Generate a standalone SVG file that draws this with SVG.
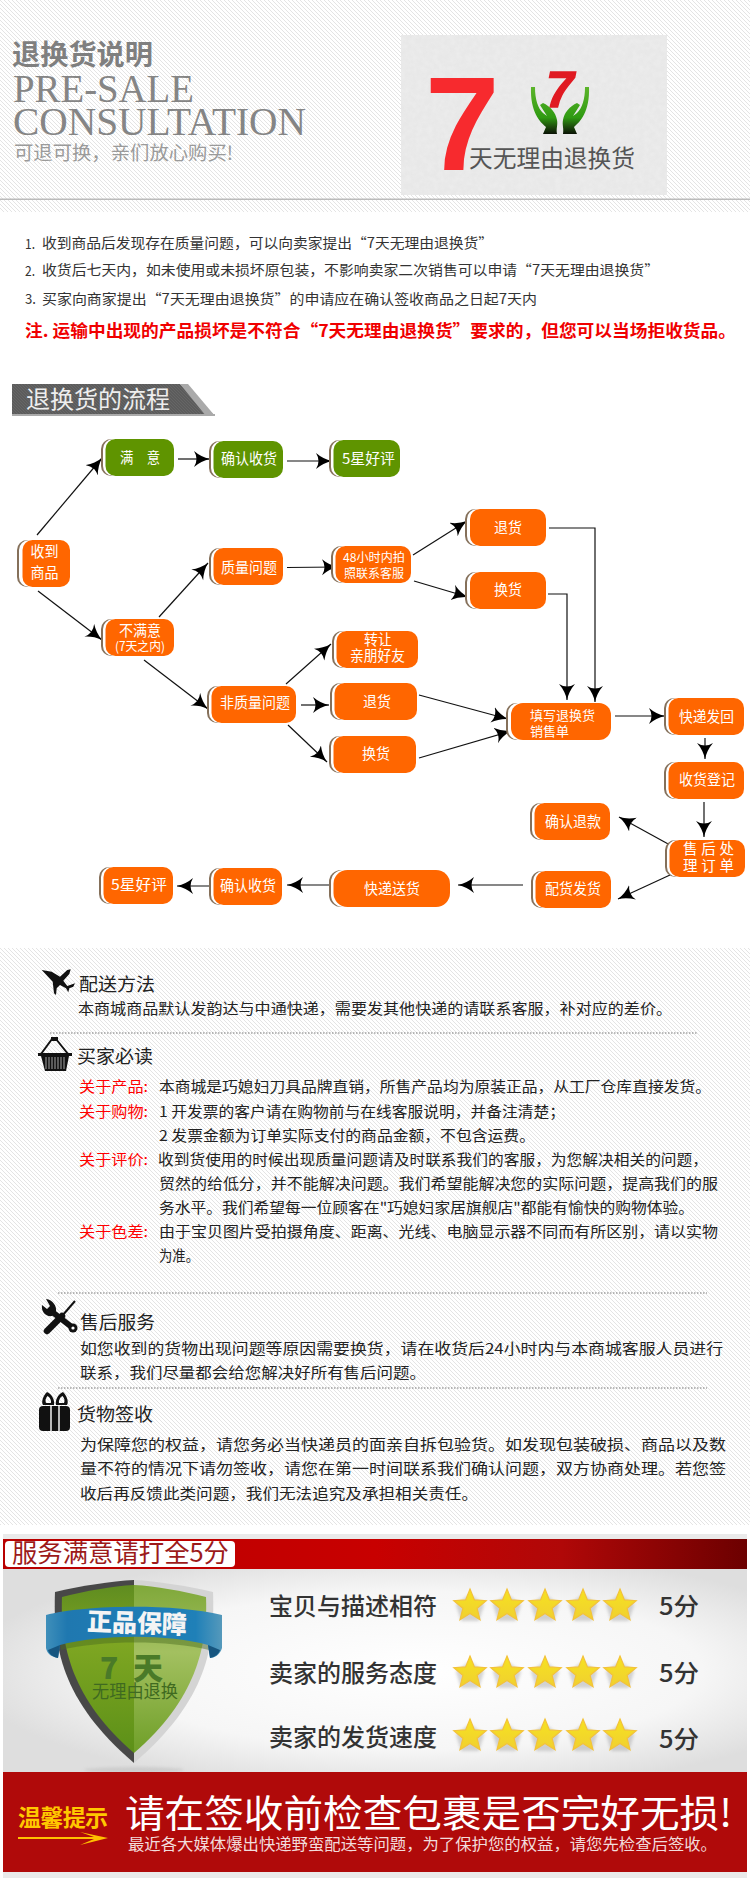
<svg xmlns="http://www.w3.org/2000/svg" width="750" height="1878" viewBox="0 0 750 1878">
<style>
text{font-family:"Noto Sans CJK SC","Liberation Sans",sans-serif}
.o{fill:#ff6600}.g{fill:#5f9400}.s{fill:#85705a}.w{fill:#fff}
.n{fill:#fff;font-size:14.5px}
.b{fill:#222;font-size:14.5px}
.h{fill:#222;font-size:18px}
.k{fill:#f00;font-size:14.5px}
.l{fill:#333;font-size:14px}
.r{fill:#333;font-size:24px;font-weight:500}
.c{fill:none;stroke:#111;stroke-width:1.2;marker-end:url(#ah)}
.d{stroke:#777;stroke-width:1;stroke-dasharray:1.5 1.5;fill:none}
</style>
<defs>
<pattern id="hat" width="4" height="4" patternUnits="userSpaceOnUse"><rect width="4" height="4" fill="#fff"/><path d="M0,0 L4,4 M-1,3 L1,5 M3,-1 L5,1" stroke="#e4e4e4" stroke-width="1"/></pattern>
<pattern id="barp" width="3" height="3" patternUnits="userSpaceOnUse"><rect width="3" height="3" fill="#5c5c5c"/><path d="M0,0 L3,3" stroke="#666" stroke-width="1"/></pattern>
<marker id="ah" markerUnits="userSpaceOnUse" markerWidth="18" markerHeight="18" refX="16" refY="8" orient="auto"><path d="M0,0 Q7,6 16,8 Q7,10 0,16 Q5,8 0,0z" fill="#000"/></marker>
<linearGradient id="band" x1="0" x2="1" y1="0" y2="0"><stop offset="0" stop-color="#b80000"/><stop offset=".5" stop-color="#c80000"/><stop offset=".75" stop-color="#b00808"/><stop offset="1" stop-color="#6c0000"/></linearGradient>
<radialGradient id="panel" cx=".55" cy=".5" r=".6"><stop offset="0" stop-color="#fff"/><stop offset=".65" stop-color="#f6f6f6"/><stop offset="1" stop-color="#dedede"/></radialGradient>
<linearGradient id="grnL" x1="0" x2="0" y1="0" y2="1"><stop offset="0" stop-color="#5f8c20"/><stop offset=".35" stop-color="#7ea622"/><stop offset="1" stop-color="#5c9018"/></linearGradient>
<linearGradient id="grnR" x1="0" x2="0" y1="0" y2="1"><stop offset="0" stop-color="#7fa83a"/><stop offset=".4" stop-color="#a3c060"/><stop offset="1" stop-color="#6f9f28"/></linearGradient>
<linearGradient id="rib" x1="0" x2="1" y1="0" y2="0"><stop offset="0" stop-color="#3f8fba"/><stop offset=".12" stop-color="#1f78b0"/><stop offset=".85" stop-color="#1f80b8"/><stop offset="1" stop-color="#5599bb"/></linearGradient>
<linearGradient id="hnd" x1="0" x2="0" y1="0" y2="1"><stop offset="0" stop-color="#5cb52a"/><stop offset=".65" stop-color="#2f9a12"/><stop offset=".85" stop-color="#1d4a0c"/><stop offset="1" stop-color="#0a1205"/></linearGradient>
<linearGradient id="strg" x1="0" x2="0" y1="0" y2="1"><stop offset="0" stop-color="#f6e220"/><stop offset="1" stop-color="#f0d030"/></linearGradient>
<filter id="bl" x="-30%" y="-30%" width="160%" height="160%"><feGaussianBlur stdDeviation="1.5"/></filter>
<filter id="nz" x="0" y="0" width="100%" height="100%"><feTurbulence type="fractalNoise" baseFrequency=".18" numOctaves="2" seed="4"/><feColorMatrix values="0 0 0 0 .88 0 0 0 0 .88 0 0 0 0 .88 0 0 0 1.4 -.45"/></filter>
<g id="star"><polygon points="0,-15 14.2,-4.6 8.8,12.1 -8.8,12.1 -14.2,-4.6" fill="#888" opacity=".35" filter="url(#bl)" transform="translate(0,3)"/><polygon points="0,-17 4.4,-6.07 16.2,-5.25 7.13,2.32 10,13.75 0,7.5 -10,13.75 -7.13,2.32 -16.2,-5.25 -4.4,-6.07" fill="url(#strg)" stroke="#f3c23a" stroke-width="1.2"/></g>
</defs>

<!-- header -->
<rect width="750" height="212" fill="url(#hat)"/>
<g id="header">
<rect x="401" y="35" width="266" height="160" fill="#e8e8e8"/>
<rect x="401" y="35" width="266" height="160" filter="url(#nz)" opacity=".6"/>
<rect x="0" y="198.5" width="750" height="1.5" fill="#bbb"/>
<text x="12" y="65" font-size="28" font-weight="700" fill="#7f7f7f" textLength="141" lengthAdjust="spacingAndGlyphs">退换货说明</text>
<text x="13" y="102" font-size="39" fill="#858585" style="font-family:'Liberation Serif',serif" textLength="181" lengthAdjust="spacingAndGlyphs">PRE-SALE</text>
<text x="13" y="135" font-size="39" fill="#858585" style="font-family:'Liberation Serif',serif" textLength="293" lengthAdjust="spacingAndGlyphs">CONSULTATION</text>
<text x="14" y="160" font-size="19" fill="#9a9a9a" textLength="219" lengthAdjust="spacingAndGlyphs">可退可换，亲们放心购买!</text>
<text x="425" y="170" font-size="134" font-weight="700" fill="#f72a2e" style="font-family:'Liberation Sans',sans-serif">7</text>
<text x="546" y="107" font-size="50" font-weight="700" font-style="italic" fill="#e01a22" stroke="#e01a22" stroke-width="1.4" style="font-family:'Liberation Sans',sans-serif">7</text>
<path d="M531,87 L535,87 C535,100 538,108 543,113 L547,116 L540,105 L543,103 C550,106 556,113 557,120 C558,125 556,128 557,134 L543,134 L546,127 C540,122 530,112 531,87Z" fill="url(#hnd)"/>
<path d="M589,87 L585,87 C585,100 582,108 577,113 L573,116 L580,105 L577,103 C570,106 564,113 563,120 C562,125 564,128 563,134 L577,134 L574,127 C580,122 590,112 589,87Z" fill="url(#hnd)"/>
<text x="469" y="167" font-size="24" fill="#555" textLength="166" lengthAdjust="spacingAndGlyphs">天无理由退换货</text>
</g>

<g id="policy">
<text class="l" x="25" y="249" font-size="14" textLength="10" lengthAdjust="spacingAndGlyphs">1.</text>
<text class="l" x="42" y="248" textLength="451" lengthAdjust="spacingAndGlyphs">收到商品后发现存在质量问题，可以向卖家提出“7天无理由退换货”</text>
<text class="l" x="25" y="276" textLength="10" lengthAdjust="spacingAndGlyphs">2.</text>
<text class="l" x="42" y="275" textLength="617" lengthAdjust="spacingAndGlyphs">收货后七天内，如未使用或未损坏原包装，不影响卖家二次销售可以申请“7天无理由退换货”</text>
<text class="l" x="25" y="304" textLength="11" lengthAdjust="spacingAndGlyphs">3.</text>
<text class="l" x="42" y="304" textLength="495" lengthAdjust="spacingAndGlyphs">买家向商家提出“7天无理由退换货”的申请应在确认签收商品之日起7天内</text>
<text x="25" y="337" font-size="16.5" font-weight="700" fill="#f00000" textLength="711" lengthAdjust="spacingAndGlyphs">注. 运输中出现的产品损坏是不符合“7天无理由退换货”要求的，但您可以当场拒收货品。</text>
</g>

<g id="flow-title">
<polygon points="12,384 180,384 215,416 12,416" fill="url(#barp)"/>
<polygon points="180,384 188,384 215,416 206,416" fill="#aaa"/>
<rect x="12" y="414" width="203" height="2" fill="#aaa"/>
<text x="26" y="408" font-size="24" fill="#eee" textLength="144" lengthAdjust="spacingAndGlyphs">退换货的流程</text>
</g>

<g id="connectors">
<path class="c" d="M37,535 L102,458"/>
<path class="c" d="M38,591 L102,640"/>
<path class="c" d="M178,459 L210,459"/>
<path class="c" d="M287,461 L332,461"/>
<path class="c" d="M159,617 L208,563"/>
<path class="c" d="M287,567.5 L338,567"/>
<path class="c" d="M144,660 L208,709"/>
<path class="c" d="M286,684 L331,644"/>
<path class="c" d="M301,705 L329,705"/>
<path class="c" d="M288,725 L327,762"/>
<path class="c" d="M413,555 L467,521"/>
<path class="c" d="M414,581 L468,597"/>
<path class="c" d="M549,528 L595,528 L595,702"/>
<path class="c" d="M548,594 L567,594 L567,700"/>
<path class="c" d="M419,695 L508,719"/>
<path class="c" d="M419,758 L511,731"/>
<path class="c" d="M615,716 L665,716"/>
<path class="c" d="M705,738 L705,759"/>
<path class="c" d="M704,802 L704,837"/>
<path class="c" d="M670,845 L619,817"/>
<path class="c" d="M670,875 L618,899"/>
<path class="c" d="M523,885 L458,885"/>
<path class="c" d="M332,885 L287,885"/>
<path class="c" d="M212,886 L177,886"/>
</g>

<g id="n-receive"><rect class="s" x="17" y="540" width="40" height="47" rx="10"/><rect class="w" x="19" y="540" width="40" height="47" rx="10"/><rect class="o" x="22.5" y="540" width="47.5" height="47" rx="10"/><text class="n" x="30.5" y="557" textLength="28" lengthAdjust="spacingAndGlyphs">收到</text><text class="n" x="30.5" y="578" textLength="28" lengthAdjust="spacingAndGlyphs">商品</text></g>
<g id="n-satisfied"><rect class="s" x="101" y="439" width="40" height="37" rx="10"/><rect class="w" x="103" y="439" width="40" height="37" rx="10"/><rect class="g" x="105.5" y="439" width="68.5" height="37" rx="10"/><text class="n" x="120" y="463" textLength="40" lengthAdjust="spacingAndGlyphs">满　意</text></g>
<g id="n-confirm-g"><rect class="s" x="209" y="441" width="40" height="37" rx="10"/><rect class="w" x="211" y="441" width="40" height="37" rx="10"/><rect class="g" x="213.5" y="441" width="69.5" height="37" rx="10"/><text class="n" x="221" y="464" textLength="56" lengthAdjust="spacingAndGlyphs">确认收货</text></g>
<g id="n-5star-g"><rect class="s" x="329" y="440" width="40" height="37" rx="10"/><rect class="w" x="331" y="440" width="40" height="37" rx="10"/><rect class="g" x="333.5" y="440" width="66.5" height="37" rx="10"/><text class="n" x="342" y="464" textLength="53" lengthAdjust="spacingAndGlyphs">5星好评</text></g>
<g id="n-quality"><rect class="s" x="209" y="548" width="40" height="37" rx="10"/><rect class="w" x="211" y="548" width="40" height="37" rx="10"/><rect class="o" x="213.5" y="548" width="69.5" height="37" rx="10"/><text class="n" x="221" y="573" textLength="56" lengthAdjust="spacingAndGlyphs">质量问题</text></g>
<g id="n-48h"><rect class="s" x="331" y="546" width="40" height="37" rx="10"/><rect class="w" x="333" y="546" width="40" height="37" rx="10"/><rect class="o" x="335.5" y="546" width="75.5" height="37" rx="10"/><text class="n" style="font-size:12px" x="343" y="561.5" textLength="62" lengthAdjust="spacingAndGlyphs">48小时内拍</text><text class="n" style="font-size:12px" x="344" y="577.5" textLength="60" lengthAdjust="spacingAndGlyphs">照联系客服</text></g>
<g id="n-unsatisfied"><rect class="s" x="101" y="619" width="40" height="37" rx="10"/><rect class="w" x="103" y="619" width="40" height="37" rx="10"/><rect class="o" x="105.5" y="619" width="68.5" height="37" rx="10"/><text class="n" x="119" y="636" textLength="42" lengthAdjust="spacingAndGlyphs">不满意</text><text class="n" style="font-size:12.5px" x="115" y="651" textLength="50" lengthAdjust="spacingAndGlyphs">(7天之内)</text></g>
<g id="n-nonquality"><rect class="s" x="207" y="686" width="40" height="37" rx="10"/><rect class="w" x="209" y="686" width="40" height="37" rx="10"/><rect class="o" x="211.5" y="686" width="84.5" height="37" rx="10"/><text class="n" x="220" y="708" textLength="70" lengthAdjust="spacingAndGlyphs">非质量问题</text></g>
<g id="n-transfer"><rect class="s" x="332" y="631" width="40" height="37" rx="10"/><rect class="w" x="334" y="631" width="40" height="37" rx="10"/><rect class="o" x="336.5" y="631" width="81.5" height="37" rx="10"/><text class="n" x="364" y="645" textLength="28" lengthAdjust="spacingAndGlyphs">转让</text><text class="n" x="350" y="661" textLength="55" lengthAdjust="spacingAndGlyphs">亲朋好友</text></g>
<g id="n-return2"><rect class="s" x="330" y="683" width="40" height="37" rx="10"/><rect class="w" x="332" y="683" width="40" height="37" rx="10"/><rect class="o" x="334.5" y="683" width="82.5" height="37" rx="10"/><text class="n" x="363" y="707" textLength="28" lengthAdjust="spacingAndGlyphs">退货</text></g>
<g id="n-exchange2"><rect class="s" x="329" y="736" width="40" height="37" rx="10"/><rect class="w" x="331" y="736" width="40" height="37" rx="10"/><rect class="o" x="333.5" y="736" width="82.5" height="37" rx="10"/><text class="n" x="362" y="759" textLength="28" lengthAdjust="spacingAndGlyphs">换货</text></g>
<g id="n-return1"><rect class="s" x="465" y="509" width="40" height="37" rx="10"/><rect class="w" x="467" y="509" width="40" height="37" rx="10"/><rect class="o" x="470" y="509" width="76" height="37" rx="10"/><text class="n" x="494" y="533" textLength="28" lengthAdjust="spacingAndGlyphs">退货</text></g>
<g id="n-exchange1"><rect class="s" x="465" y="572" width="40" height="37" rx="10"/><rect class="w" x="467" y="572" width="40" height="37" rx="10"/><rect class="o" x="470" y="572" width="76" height="37" rx="10"/><text class="n" x="494" y="595" textLength="28" lengthAdjust="spacingAndGlyphs">换货</text></g>
<g id="n-form"><rect class="s" x="506" y="703" width="40" height="37" rx="10"/><rect class="w" x="508" y="703" width="40" height="37" rx="10"/><rect class="o" x="511" y="703" width="100" height="37" rx="12"/><text class="n" style="font-size:13px" x="530" y="720" textLength="65" lengthAdjust="spacingAndGlyphs">填写退换货</text><text class="n" style="font-size:13px" x="530" y="736" textLength="39" lengthAdjust="spacingAndGlyphs">销售单</text></g>
<g id="n-sendback"><rect class="s" x="664" y="698" width="40" height="37" rx="10"/><rect class="w" x="666" y="698" width="40" height="37" rx="10"/><rect class="o" x="668.5" y="698" width="75.5" height="37" rx="10"/><text class="n" x="679" y="722" textLength="55" lengthAdjust="spacingAndGlyphs">快递发回</text></g>
<g id="n-register"><rect class="s" x="664" y="762" width="40" height="37" rx="10"/><rect class="w" x="666" y="762" width="40" height="37" rx="10"/><rect class="o" x="668.5" y="762" width="75.5" height="37" rx="10"/><text class="n" x="679" y="785" textLength="56" lengthAdjust="spacingAndGlyphs">收货登记</text></g>
<g id="n-refund"><rect class="s" x="530" y="803" width="40" height="37" rx="10"/><rect class="w" x="532" y="803" width="40" height="37" rx="10"/><rect class="o" x="534.5" y="803" width="75.5" height="37" rx="10"/><text class="n" x="545" y="827" textLength="56" lengthAdjust="spacingAndGlyphs">确认退款</text></g>
<g id="n-aftersale"><rect class="s" x="665" y="840" width="40" height="37" rx="10"/><rect class="w" x="667" y="840" width="40" height="37" rx="10"/><rect class="o" x="669.5" y="840" width="75.5" height="37" rx="10"/><text class="n" x="683" y="854" textLength="51" lengthAdjust="spacing">售后处</text><text class="n" x="683" y="871" textLength="51" lengthAdjust="spacing">理订单</text></g>
<g id="n-ship"><rect class="s" x="531" y="871" width="40" height="37" rx="10"/><rect class="w" x="533" y="871" width="40" height="37" rx="10"/><rect class="o" x="535.5" y="871" width="75.5" height="37" rx="10"/><text class="n" x="545" y="894" textLength="56" lengthAdjust="spacingAndGlyphs">配货发货</text></g>
<g id="n-deliver"><rect class="s" x="329" y="870" width="40" height="37" rx="12"/><rect class="w" x="331" y="870" width="40" height="37" rx="12"/><rect class="o" x="333.5" y="870" width="116.5" height="37" rx="14"/><text class="n" x="364" y="894" textLength="56" lengthAdjust="spacingAndGlyphs">快递送货</text></g>
<g id="n-confirm-o"><rect class="s" x="209" y="868" width="40" height="37" rx="10"/><rect class="w" x="211" y="868" width="40" height="37" rx="10"/><rect class="o" x="213.5" y="868" width="68.5" height="37" rx="10"/><text class="n" x="220" y="891" textLength="56" lengthAdjust="spacingAndGlyphs">确认收货</text></g>
<g id="n-5star-o"><rect class="s" x="99" y="867" width="40" height="37" rx="10"/><rect class="w" x="101" y="867" width="40" height="37" rx="10"/><rect class="o" x="103.5" y="867" width="69.5" height="37" rx="10"/><text class="n" x="111" y="890" textLength="56" lengthAdjust="spacingAndGlyphs">5星好评</text></g>

<!-- info -->
<rect y="948" width="750" height="577" fill="url(#hat)"/>
<g id="delivery">
<polygon points="41.7,970 51.7,971.7 60,976.7 67.3,970 70.7,969.3 69.3,974 63.3,980.7 67.3,986 75,983.3 73.3,986.7 69.3,988.3 68.3,992.3 66,988.3 60,985 56.7,988.3 56,995 54,993.3 52.7,981.7" fill="#111"/>
<text class="h" x="79" y="991" textLength="76" lengthAdjust="spacingAndGlyphs">配送方法</text>
<text class="b" x="78" y="1014" textLength="594" lengthAdjust="spacingAndGlyphs">本商城商品默认发韵达与中通快递，需要发其他快递的请联系客服，补对应的差价。</text>
<path class="d" d="M50,1033 H697"/>
</g>
<g id="must-read">
<path d="M52,1039 L41,1054 M56,1039 L68,1054" stroke="#111" stroke-width="2" fill="none"/>
<path d="M51,1037 h7 v4 h-7z" fill="#111"/>
<path d="M38,1053 H72 V1056 H69 L66,1071 H45 L41,1056 H38Z" fill="#111"/>
<path d="M46,1057 V1069 M49,1057 V1069 M52,1057 V1069 M55,1057 V1069 M58,1057 V1069 M61,1057 V1069 M64,1057 V1069" stroke="#ccc" stroke-width=".8"/>
<text class="h" x="77" y="1063" textLength="76" lengthAdjust="spacingAndGlyphs">买家必读</text>
<text class="k" x="79" y="1092" textLength="69" lengthAdjust="spacingAndGlyphs">关于产品:</text>
<text class="b" x="159" y="1092" textLength="552" lengthAdjust="spacingAndGlyphs">本商城是巧媳妇刀具品牌直销，所售产品均为原装正品，从工厂仓库直接发货。</text>
<text class="k" x="79" y="1117" textLength="69" lengthAdjust="spacingAndGlyphs">关于购物:</text>
<text class="b" x="159" y="1117" textLength="406" lengthAdjust="spacingAndGlyphs">1 开发票的客户请在购物前与在线客服说明，并备注清楚；</text>
<text class="b" x="159" y="1141" textLength="376" lengthAdjust="spacingAndGlyphs">2 发票金额为订单实际支付的商品金额，不包含运费。</text>
<text class="k" x="79" y="1165" textLength="69" lengthAdjust="spacingAndGlyphs">关于评价:</text>
<text class="b" x="158" y="1165" textLength="550" lengthAdjust="spacingAndGlyphs">收到货使用的时候出现质量问题请及时联系我们的客服，为您解决相关的问题，</text>
<text class="b" x="159" y="1189" textLength="559" lengthAdjust="spacingAndGlyphs">贸然的给低分，并不能解决问题。我们希望能解决您的实际问题，提高我们的服</text>
<text class="b" x="159" y="1213" textLength="535" lengthAdjust="spacingAndGlyphs">务水平。我们希望每一位顾客在"巧媳妇家居旗舰店"都能有愉快的购物体验。</text>
<text class="k" x="79" y="1237" textLength="69" lengthAdjust="spacingAndGlyphs">关于色差:</text>
<text class="b" x="159" y="1237" textLength="559" lengthAdjust="spacingAndGlyphs">由于宝贝图片受拍摄角度、距离、光线、电脑显示器不同而有所区别，请以实物</text>
<text class="b" x="159" y="1261" textLength="40" lengthAdjust="spacingAndGlyphs">为准。</text>
<path class="d" d="M58,1293 H707"/>
</g>
<g id="after-sales">
<path d="M75,1301 L62,1316" stroke="#111" stroke-width="2" fill="none"/>
<path d="M62,1316 L47,1331" stroke="#111" stroke-width="6.5" stroke-linecap="round" fill="none"/>
<path d="M51,1311 L73,1328" stroke="#111" stroke-width="6" fill="none"/>
<circle cx="73" cy="1328" r="4.5" fill="#111"/><circle cx="73" cy="1328" r="1.6" fill="#fff"/>
<path d="M42,1305 C41,1312 46,1317 52,1316 L56,1312 C57,1306 53,1300 46,1299 L50,1306 L47,1309Z" fill="#111"/>
<text class="h" x="80" y="1329" textLength="75" lengthAdjust="spacingAndGlyphs">售后服务</text>
<text class="b" x="80" y="1354" textLength="643" lengthAdjust="spacingAndGlyphs">如您收到的货物出现问题等原因需要换货，请在收货后24小时内与本商城客服人员进行</text>
<text class="b" x="80" y="1378" textLength="346" lengthAdjust="spacingAndGlyphs">联系，我们尽量都会给您解决好所有售后问题。</text>
<path class="d" d="M58,1388 H707"/>
</g>
<g id="sign-off">
<path fill-rule="evenodd" d="M47,1392 C43,1396 41,1402 43,1405 L54,1405 C55,1400 52,1394 47,1392Z M47.5,1396 C45.5,1398 45,1401 46,1403 L51,1403 C51.5,1400 49.5,1397 47.5,1396Z" fill="#111"/>
<path fill-rule="evenodd" d="M63,1392 C67,1396 69,1402 67,1405 L56,1405 C55,1400 58,1394 63,1392Z M62.5,1396 C64.5,1398 65,1401 64,1403 L59,1403 C58.5,1400 60.5,1397 62.5,1396Z" fill="#111"/>
<rect x="39" y="1406" width="31" height="25" rx="4" fill="#111"/>
<path d="M51,1406 V1431 M59,1406 V1431" stroke="#fff" stroke-width="1.4"/>
<text class="h" x="77" y="1421" textLength="76" lengthAdjust="spacingAndGlyphs">货物签收</text>
<text class="b" x="80" y="1450" textLength="646" lengthAdjust="spacingAndGlyphs">为保障您的权益，请您务必当快递员的面亲自拆包验货。如发现包装破损、商品以及数</text>
<text class="b" x="80" y="1474" textLength="646" lengthAdjust="spacingAndGlyphs">量不符的情况下请勿签收，请您在第一时间联系我们确认问题，双方协商处理。若您签</text>
<text class="b" x="80" y="1499" textLength="398" lengthAdjust="spacingAndGlyphs">收后再反馈此类问题，我们无法追究及承担相关责任。</text>
</g>

<!-- rating -->
<g id="rating">
<rect x="3" y="1534" width="744" height="344" fill="#eaeaea"/>
<rect x="3" y="1539" width="744" height="30" fill="url(#band)"/>
<rect x="5" y="1541" width="230" height="26" rx="4" fill="#fff"/>
<text x="12" y="1562" font-size="25" fill="#9c1a1a" textLength="217" lengthAdjust="spacingAndGlyphs">服务满意请打全5分</text>
<rect x="3" y="1569" width="744" height="203" fill="url(#panel)"/>
<ellipse cx="134" cy="1770" rx="50" ry="3" fill="#bbb" opacity=".5" filter="url(#bl)"/>
<path d="M134,1580 C112,1581 80,1586 55,1592 C53,1645 60,1700 134,1763 Z" fill="#484848"/>
<path d="M134,1580 C156,1581 188,1586 213,1592 C215,1645 208,1700 134,1763 Z" fill="#d4d4d4"/>
<path d="M134,1585 C112,1586 86,1591 62,1597 C60,1645 72,1700 134,1753Z" fill="url(#grnL)"/>
<path d="M134,1585 C156,1586 182,1591 206,1597 C208,1645 196,1700 134,1753Z" fill="url(#grnR)"/>
<path d="M60,1640 C100,1630 170,1630 210,1640 L209,1650 C170,1640 100,1640 61,1650Z" fill="#4a6a20" opacity=".45"/>
<path d="M46,1615 C83,1605 173,1603 222,1615 L222,1648 C220,1655 214,1658 210,1658 L208,1645 C170,1634 100,1634 60,1645 L58,1658 C52,1657 47,1654 46,1648Z" fill="url(#rib)"/>
<path d="M60,1645 L58,1658 C53,1657 49,1654 48,1650Z M208,1645 L210,1658 C215,1657 219,1654 220,1650Z" fill="#16557f"/>
<text x="87" y="1632" font-size="25" font-weight="900" fill="#f4f4f4" textLength="100" lengthAdjust="spacingAndGlyphs" transform="rotate(2 136 1622)">正品保障</text>
<text x="100" y="1679" font-size="30" font-weight="900" fill="#4a7a28" textLength="63" lengthAdjust="spacing">7天</text>
<text x="92" y="1698" font-size="18" fill="#3f6a20" textLength="86" lengthAdjust="spacingAndGlyphs">无理由退换</text>
<text class="r" x="269" y="1615" textLength="168" lengthAdjust="spacingAndGlyphs">宝贝与描述相符</text>
<text class="r" x="269" y="1682" textLength="168" lengthAdjust="spacingAndGlyphs">卖家的服务态度</text>
<text class="r" x="269" y="1746" textLength="168" lengthAdjust="spacingAndGlyphs">卖家的发货速度</text>
<use href="#star" x="470" y="1606"/><use href="#star" x="507" y="1606"/><use href="#star" x="545" y="1606"/><use href="#star" x="583" y="1606"/><use href="#star" x="620" y="1606"/>
<use href="#star" x="470" y="1673"/><use href="#star" x="507" y="1673"/><use href="#star" x="545" y="1673"/><use href="#star" x="583" y="1673"/><use href="#star" x="620" y="1673"/>
<use href="#star" x="470" y="1736"/><use href="#star" x="507" y="1736"/><use href="#star" x="545" y="1736"/><use href="#star" x="583" y="1736"/><use href="#star" x="620" y="1736"/>
<text class="r" x="659" y="1615" textLength="40" lengthAdjust="spacingAndGlyphs">5分</text>
<text class="r" x="659" y="1682" textLength="40" lengthAdjust="spacingAndGlyphs">5分</text>
<text class="r" x="659" y="1748" textLength="40" lengthAdjust="spacingAndGlyphs">5分</text>
</g>
<g id="notice">
<rect x="3" y="1772" width="744" height="100" fill="#b00a0a"/>
<text x="18" y="1826" font-size="23" font-weight="700" fill="#ffc800" textLength="90" lengthAdjust="spacing">温馨提示</text>
<path d="M18,1837 H94 L80,1832 L108,1838 L80,1845 L94,1839 H18Z" fill="#ffc000"/>
<text x="125" y="1827" font-size="38" fill="#fff" textLength="607" lengthAdjust="spacingAndGlyphs">请在签收前检查包裹是否完好无损!</text>
<text x="128" y="1850" font-size="16" fill="#f2dcdc" textLength="589" lengthAdjust="spacingAndGlyphs">最近各大媒体爆出快递野蛮配送等问题，为了保护您的权益，请您先检查后签收。</text>
</g>
</svg>
